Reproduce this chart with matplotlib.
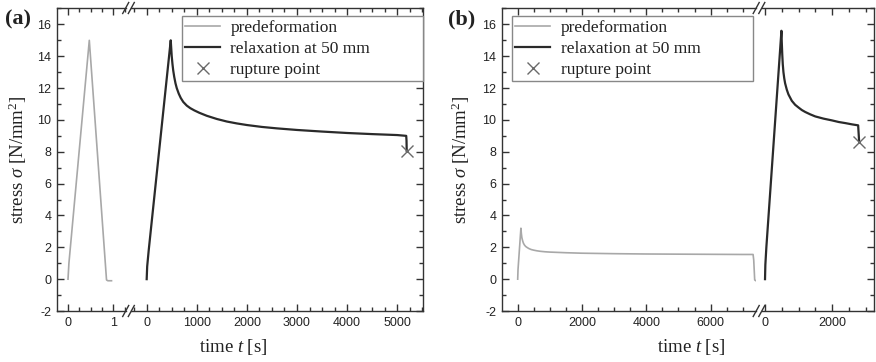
import matplotlib
matplotlib.use('Agg')
import matplotlib.pyplot as plt
from matplotlib.lines import Line2D
from matplotlib.ticker import MultipleLocator

plt.rcParams['mathtext.fontset'] = 'custom'
plt.rcParams['mathtext.rm'] = 'Liberation Serif'
plt.rcParams['mathtext.it'] = 'Liberation Serif:italic'
plt.rcParams['font.family'] = 'Liberation Sans'
plt.rcParams['axes.unicode_minus'] = False

# ---------------- data ----------------
# panel (a)
pre_a_t = [0, 0.02, 0.47, 0.85, 0.88, 0.96]
pre_a_s = [0, 1.0, 15.0, -0.05, -0.1, -0.1]
relax_a_t = [0, 10, 40, 480, 490, 500, 515, 530, 550, 575, 600, 640, 680, 730, 800, 870,
             950, 1050, 1200, 1400, 1600, 1800, 2000, 2300, 2600, 3000, 3500, 4000, 4500,
             5000, 5180, 5186, 5190]
relax_a_s = [0, 0.8, 1.8, 15.0, 14.5, 14.0, 13.5, 13.1, 12.7, 12.3, 12.0, 11.65, 11.38,
             11.13, 10.9, 10.74, 10.6, 10.45, 10.26, 10.06, 9.9, 9.78, 9.68, 9.56, 9.47,
             9.37, 9.27, 9.18, 9.11, 9.05, 9.0, 8.7, 8.05]
rupture_a_t = [5190]
rupture_a_s = [8.05]

# panel (b)
pre_b_t = [0, 10, 100, 115, 130, 155, 180, 215, 250, 300, 350, 420, 500, 600, 700, 850,
           1000, 1500, 2000, 3000, 4000, 5000, 6000, 7000, 7320, 7340, 7370, 7410]
pre_b_s = [0, 0.6, 3.2, 2.85, 2.6, 2.4, 2.25, 2.13, 2.05, 1.98, 1.92, 1.86, 1.82, 1.78,
           1.75, 1.72, 1.7, 1.66, 1.63, 1.6, 1.58, 1.57, 1.56, 1.55, 1.55, 1.2, -0.05, -0.1]
relax_b_t = [0, 10, 40, 490, 500, 515, 530, 550, 575, 600, 650, 700, 800, 900, 1000, 1100,
             1200, 1350, 1500, 1750, 2000, 2200, 2400, 2600, 2780, 2790, 2810]
relax_b_s = [0, 0.9, 2.0, 15.6, 14.9, 14.1, 13.5, 13.0, 12.6, 12.3, 11.9, 11.6, 11.2,
             10.95, 10.78, 10.62, 10.5, 10.35, 10.22, 10.08, 9.97, 9.87, 9.8, 9.72, 9.66,
             9.3, 8.62]
rupture_b_t = [2815]
rupture_b_s = [8.62]

yticks = [-2, 0, 2, 4, 6, 8, 10, 12, 14, 16]
labels = ['predeformation', 'relaxation at 50 mm', 'rupture point']

PRE_C = '#a8a8a8'
REL_C = '#2a2a2a'
MK_C = '#6a6a6a'
SP_C = '#333333'
TXT_C = '#222222'

W, H = 876, 362
fig = plt.figure(figsize=(W / 100, H / 100), dpi=100)
Y0, Y1 = 8, 311


def ax_at(x0, x1):
    return fig.add_axes([x0 / W, (H - Y1) / H, (x1 - x0) / W, (Y1 - Y0) / H])


def style(ax, first, last, xmaj, xmin, xlim):
    ax.set_xlim(*xlim)
    ax.set_ylim(-2, 17.03)
    ax.set_yticks(yticks)
    ax.yaxis.set_minor_locator(MultipleLocator(1))
    ax.xaxis.set_major_locator(MultipleLocator(xmaj))
    ax.xaxis.set_minor_locator(MultipleLocator(xmin))
    ax.tick_params(which='both', direction='in', top=True, bottom=True,
                   left=first, right=last, labelleft=first, labelright=False,
                   colors=SP_C, labelcolor=TXT_C, labelsize=9, width=1)
    ax.tick_params(which='major', length=5, pad=4)
    ax.tick_params(which='minor', length=3)
    for s in ax.spines.values():
        s.set_color(SP_C)
        s.set_linewidth(1)
    if not first:
        ax.spines['left'].set_visible(False)
    if not last:
        ax.spines['right'].set_visible(False)


def breakmark(xc):
    for y in (Y0, Y1):
        for dx in (-2.8, 2.8):
            x = xc + dx
            fig.add_artist(Line2D([(x - 3) / W, (x + 3) / W],
                                  [(H - y - 5.5) / H, (H - y + 5.5) / H],
                                  transform=fig.transFigure, color=SP_C, lw=1))


def legend(ax, x0, x1, y0):
    h = [Line2D([], [], color=PRE_C, lw=1.2),
         Line2D([], [], color=REL_C, lw=1.6),
         Line2D([], [], color=MK_C, ls='none', marker='x', ms=9, mew=1)]
    lg = fig.legend(h, labels, loc='upper left',
                    bbox_to_anchor=(x0 / W, (H - y0) / H, (x1 - x0) / W, 0.0001),
                    bbox_transform=fig.transFigure, mode='expand',
                    prop={'family': 'Liberation Serif', 'size': 12.5},
                    frameon=True, fancybox=False, framealpha=1, edgecolor='#888888',
                    borderpad=0.2, labelspacing=0.28, handlelength=2.0,
                    handletextpad=0.6, borderaxespad=0)
    lg.get_frame().set_linewidth(1)
    for t in lg.get_texts():
        t.set_color(TXT_C)


# ---------------- panel (a) ----------------
aL = ax_at(57, 126)
aR = ax_at(131, 423)
style(aL, True, False, 1, 0.25, (-0.243, 1.28))
style(aR, False, True, 1000, 250, (-313, 5515))
aL.plot(pre_a_t, pre_a_s, color=PRE_C, lw=1.2)
aR.plot(relax_a_t, relax_a_s, color=REL_C, lw=1.6)
aR.plot(rupture_a_t, rupture_a_s, ls='none', marker='x', ms=9, mew=1, color=MK_C)
breakmark(128.5)
legend(aR, 181.7, 422.7, 16)

# ---------------- panel (b) ----------------
bL = ax_at(502, 756.3)
bR = ax_at(762, 873.7)
style(bL, True, False, 2000, 500, (-488, 7420))
style(bR, False, True, 2000, 500, (-90, 3244))
bL.plot(pre_b_t, pre_b_s, color=PRE_C, lw=1.2)
bR.plot(relax_b_t, relax_b_s, color=REL_C, lw=1.6)
bR.plot(rupture_b_t, rupture_b_s, ls='none', marker='x', ms=9, mew=1, color=MK_C)
breakmark(759)
legend(bL, 512, 752.7, 16)

# ---------------- labels ----------------
serif = 'Liberation Serif'
for xc, yl in ((18, r'stress $\sigma$ [N/mm$^2$]'), (461, r'stress $\sigma$ [N/mm$^2$]')):
    fig.text(xc / W, (H - 160) / H, yl, rotation=90, ha='center', va='center',
             family=serif, size=13.5, color=TXT_C)
for xc in (233, 691):
    fig.text(xc / W, (H - 347) / H, r'time $t$ [s]', ha='center', va='center',
             family=serif, size=13.5, color=TXT_C)
fig.text(5 / W, (H - 19) / H, '(a)', ha='left', va='center', family=serif,
         weight='bold', size=16, color=TXT_C)
fig.text(448 / W, (H - 19) / H, '(b)', ha='left', va='center', family=serif,
         weight='bold', size=16, color=TXT_C)

fig.savefig('out.png', dpi=100)
